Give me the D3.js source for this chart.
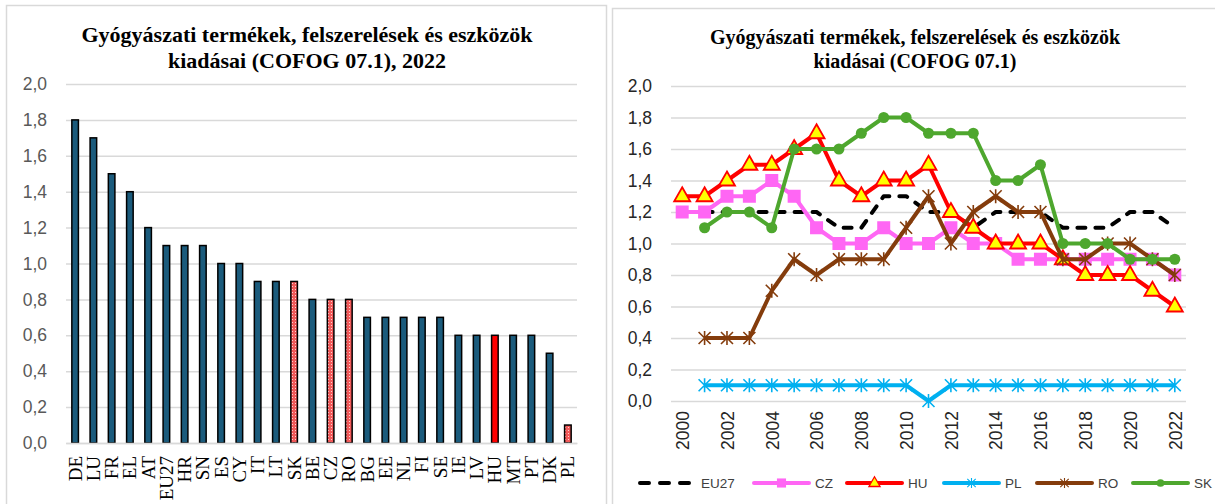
<!DOCTYPE html>
<html>
<head>
<meta charset="utf-8">
<script src="https://cdn.jsdelivr.net/npm/d3@7"></script>
<style>
  body { margin: 0; background: #fff; }
  svg { display: block; }
</style>
</head>
<body>
<svg id="svgcanvas" width="1215" height="504"></svg>
<script>

/****************************************************************************
 *  data - left chart (2022, bars)
 ****************************************************************************/
var barCountries = ["DE", "LU", "FR", "EL", "AT", "EU27", "HR", "SN", "ES", "CY",
  "IT", "LT", "SK", "BE", "CZ", "RO", "BG", "EE", "NL", "FI", "SE", "IE", "LV",
  "HU", "MT", "PT", "DK", "PL"];
var barValues = [1.8, 1.7, 1.5, 1.4, 1.2, 1.1, 1.1, 1.1, 1.0, 1.0,
  0.9, 0.9, 0.9, 0.8, 0.8, 0.8, 0.7, 0.7, 0.7, 0.7, 0.7, 0.6, 0.6,
  0.6, 0.6, 0.6, 0.5, 0.1];
var patternedCountries = ["SK", "CZ", "RO", "PL"];
var redCountries = ["HU"];

/****************************************************************************
 *  data - right chart (time series)
 ****************************************************************************/
var years = ["2000", "2001", "2002", "2003", "2004", "2005", "2006", "2007",
  "2008", "2009", "2010", "2011", "2012", "2013", "2014", "2015", "2016",
  "2017", "2018", "2019", "2020", "2021", "2022"];
var yearLabels = ["2000", "2002", "2004", "2006", "2008", "2010", "2012",
  "2014", "2016", "2018", "2020", "2022"];
var seriesNames = ["EU27", "CZ", "HU", "PL", "RO", "SK"];
var eu27 = [null, 1.2, 1.2, 1.2, 1.2, 1.2, 1.2, 1.1, 1.1, 1.3, 1.3, 1.2, 1.2,
  1.1, 1.2, 1.2, 1.2, 1.1, 1.1, 1.1, 1.2, 1.2, 1.1];
var cz = [1.2, 1.2, 1.3, 1.3, 1.4, 1.3, 1.1, 1.0, 1.0, 1.1, 1.0, 1.0, 1.1,
  1.0, 1.0, 0.9, 0.9, 0.9, 0.9, 0.9, 0.9, 0.9, 0.8];
var hu = [1.3, 1.3, 1.4, 1.5, 1.5, 1.6, 1.7, 1.4, 1.3, 1.4, 1.4, 1.5, 1.2,
  1.1, 1.0, 1.0, 1.0, 0.9, 0.8, 0.8, 0.8, 0.7, 0.6];
var pl = [null, 0.1, 0.1, 0.1, 0.1, 0.1, 0.1, 0.1, 0.1, 0.1, 0.1, 0.0, 0.1,
  0.1, 0.1, 0.1, 0.1, 0.1, 0.1, 0.1, 0.1, 0.1, 0.1];
var ro = [null, 0.4, 0.4, 0.4, 0.7, 0.9, 0.8, 0.9, 0.9, 0.9, 1.1, 1.3, 1.0,
  1.2, 1.3, 1.2, 1.2, 0.9, 0.9, 1.0, 1.0, 0.9, 0.8];
var sk = [null, 1.1, 1.2, 1.2, 1.1, 1.6, 1.6, 1.6, 1.7, 1.8, 1.8, 1.7, 1.7,
  1.7, 1.4, 1.4, 1.5, 1.0, 1.0, 1.0, 0.9, 0.9, 0.9];
var seriesValues = [eu27, cz, hu, pl, ro, sk];

var yTicks = [0, 0.2, 0.4, 0.6, 0.8, 1.0, 1.2, 1.4, 1.6, 1.8, 2.0];

/****************************************************************************
 *  styles
 ****************************************************************************/
var GRID = "#d9d9d9";
var BAR_FILL = "#1b5b7c";
var serif = "'Liberation Serif', 'Times New Roman', serif";
var sans = "'Liberation Sans', Arial, sans-serif";

// per-series look, same order as seriesNames
var seriesStyle = [
  { color: "#000000", dash: "8,10", marker: "none" },
  { color: "#ff66f4", dash: null, marker: "square" },
  { color: "#ff0000", dash: null, marker: "triangle" },
  { color: "#00b0f0", dash: null, marker: "star" },
  { color: "#843c0c", dash: null, marker: "star" },
  { color: "#4ea72e", dash: null, marker: "circle" }
];

function fmtComma(d) { return d3.format(".1f")(d).replace(".", ","); }

var svg = d3.select("#svgcanvas");
svg.append("rect").attr("width", 1215).attr("height", 504).attr("fill", "#fff");

// dotted fill for the highlighted bars
var pat = svg.append("defs").append("pattern")
  .attr("id", "dots")
  .attr("patternUnits", "userSpaceOnUse")
  .attr("width", 3).attr("height", 3);
pat.append("rect").attr("width", 3).attr("height", 3).attr("fill", "#f25a5a");
pat.append("rect").attr("x", 1).attr("y", 1).attr("width", 1).attr("height", 1)
  .attr("fill", "#ffd0d0");

// panel frames
svg.append("rect").attr("x", 6.5).attr("y", 5.5).attr("width", 600).attr("height", 520)
  .attr("fill", "none").attr("stroke", GRID).attr("stroke-width", 1.5);
svg.append("rect").attr("x", 612.5).attr("y", 8.5).attr("width", 620).attr("height", 520)
  .attr("fill", "none").attr("stroke", GRID).attr("stroke-width", 1.5);


/****************************************************************************
 *  left chart
 ****************************************************************************/
function drawBars() {
  var g = svg.append("g");
  var x = d3.scaleBand().domain(barCountries).range([66, 577]);
  var y = d3.scaleLinear().domain([0, 2]).range([443, 84]);

  // title
  var title = g.append("text")
    .attr("text-anchor", "middle")
    .style("font-family", serif).style("font-weight", "bold")
    .style("font-size", "22px").attr("fill", "#000");
  title.append("tspan").attr("x", 307).attr("y", 42)
    .text("Gyógyászati termékek, felszerelések és eszközök");
  title.append("tspan").attr("x", 307).attr("y", 68)
    .text("kiadásai (COFOG 07.1), 2022");

  // y axis + grid
  var ya = g.append("g").attr("transform", "translate(66,0)")
    .call(d3.axisLeft(y).tickValues(yTicks).tickFormat(fmtComma)
      .tickSizeInner(-511).tickSizeOuter(0).tickPadding(19));
  ya.select(".domain").remove();
  ya.selectAll("line").attr("stroke", GRID).attr("stroke-width", 1.5);
  ya.selectAll("text").attr("fill", "#595959")
    .style("font-family", sans).style("font-size", "17.5px");

  // bars
  var bw = x.bandwidth() * 0.36;
  g.append("g").selectAll("rect")
    .data(barValues)
    .enter().append("rect")
    .attr("x", function(d, i) { return x(barCountries[i]) + (x.bandwidth() - bw) / 2; })
    .attr("y", function(d) { return y(d); })
    .attr("width", bw)
    .attr("height", function(d) { return y(0) - y(d); })
    .attr("fill", function(d, i) {
      var c = barCountries[i];
      if (redCountries.indexOf(c) >= 0) { return "#ff0000"; }
      if (patternedCountries.indexOf(c) >= 0) { return "url(#dots)"; }
      return BAR_FILL;
    })
    .attr("stroke", "#000")
    .attr("stroke-width", 1.5);

  // x axis labels
  var xa = g.append("g").attr("transform", "translate(0,443)")
    .call(d3.axisBottom(x).tickSize(0));
  xa.select(".domain").attr("stroke", GRID).attr("stroke-width", 1.5);
  xa.selectAll("text")
    .attr("transform", "rotate(-90)")
    .attr("x", -13).attr("y", 0).attr("dy", "0.34em")
    .style("text-anchor", "end")
    .style("font-family", serif).style("font-size", "19px")
    .attr("fill", "#000");
}


/****************************************************************************
 *  right chart
 ****************************************************************************/
function drawMarker(sel, type, color) {
  if (type === "square") {
    sel.append("rect").attr("x", -6.5).attr("y", -6.5).attr("width", 13).attr("height", 13)
      .attr("fill", color);
  } else if (type === "triangle") {
    sel.append("path").attr("d", "M0,-9L8,5L-8,5Z")
      .attr("fill", "#ffff00").attr("stroke", "#ff0000").attr("stroke-width", 1.8)
      .attr("stroke-linejoin", "miter");
  } else if (type === "star") {
    sel.append("path").attr("d", "M-6,-6L6,6M-6,6L6,-6M0,-7L0,7")
      .attr("fill", "none").attr("stroke", color).attr("stroke-width", 1.6);
  } else if (type === "circle") {
    sel.append("circle").attr("r", 5.5).attr("fill", color);
  }
}

function drawLines() {
  var g = svg.append("g");
  var x = d3.scalePoint().domain(years).range([671, 1186]).padding(0.5);
  var y = d3.scaleLinear().domain([0, 2]).range([401, 86]);

  var title = g.append("text")
    .attr("text-anchor", "middle")
    .style("font-family", serif).style("font-weight", "bold")
    .style("font-size", "20px").attr("fill", "#000");
  title.append("tspan").attr("x", 915).attr("y", 44)
    .text("Gyógyászati termékek, felszerelések és eszközök");
  title.append("tspan").attr("x", 915).attr("y", 68)
    .text("kiadásai (COFOG 07.1)");

  var ya = g.append("g").attr("transform", "translate(671,0)")
    .call(d3.axisLeft(y).tickValues(yTicks).tickFormat(fmtComma)
      .tickSizeInner(-515).tickSizeOuter(0).tickPadding(19));
  ya.select(".domain").remove();
  ya.selectAll("line").attr("stroke", GRID).attr("stroke-width", 1.5);
  ya.selectAll("text").attr("fill", "#262626")
    .style("font-family", sans).style("font-size", "17.5px");

  var xa = g.append("g").attr("transform", "translate(0,401)")
    .call(d3.axisBottom(x).tickValues(yearLabels).tickSize(0));
  xa.select(".domain").remove();
  xa.selectAll("text")
    .attr("transform", "rotate(-90)")
    .attr("x", -10).attr("y", 0).attr("dy", "0.36em")
    .style("text-anchor", "end")
    .style("font-family", sans).style("font-size", "17.5px")
    .attr("fill", "#262626");

  var line = d3.line()
    .defined(function(d) { return d != null; })
    .x(function(d, i) { return x(years[i]); })
    .y(function(d) { return y(d); });

  seriesValues.forEach(function(vals, k) {
    var st = seriesStyle[k];
    var sg = g.append("g");
    sg.append("path").datum(vals)
      .attr("d", line)
      .attr("fill", "none")
      .attr("stroke", st.color)
      .attr("stroke-width", 4)
      .attr("stroke-linejoin", "round")
      .attr("stroke-linecap", st.dash ? "round" : "butt")
      .attr("stroke-dasharray", st.dash);
    if (st.marker !== "none") {
      sg.selectAll("g.m")
        .data(vals.map(function(v, i) { return { v: v, yr: years[i] }; })
          .filter(function(d) { return d.v != null; }))
        .enter().append("g").attr("class", "m")
        .attr("transform", function(d) { return "translate(" + x(d.yr) + "," + y(d.v) + ")"; })
        .each(function() { drawMarker(d3.select(this), st.marker, st.color); });
    }
  });

  // legend
  var legendX = [640, 754, 847, 944, 1037, 1133];
  var lg = g.append("g").attr("transform", "translate(0,483)");
  seriesNames.forEach(function(name, k) {
    var st = seriesStyle[k];
    var it = lg.append("g").attr("transform", "translate(" + legendX[k] + ",0)");
    it.append("line").attr("x1", 0).attr("x2", 55).attr("y1", 0).attr("y2", 0)
      .attr("stroke", st.color).attr("stroke-width", 4)
      .attr("stroke-linecap", "round")
      .attr("stroke-dasharray", st.dash ? "9,11" : null);
    var mk = it.append("g").attr("transform", "translate(27.5,0) scale(0.7)");
    drawMarker(mk, st.marker, st.color);
    it.append("text").attr("x", 61).attr("y", 0).attr("dy", "0.35em")
      .style("font-family", sans).style("font-size", "13.5px")
      .attr("fill", "#404040").text(name);
  });
}

drawBars();
drawLines();

</script>
</body>
</html>
